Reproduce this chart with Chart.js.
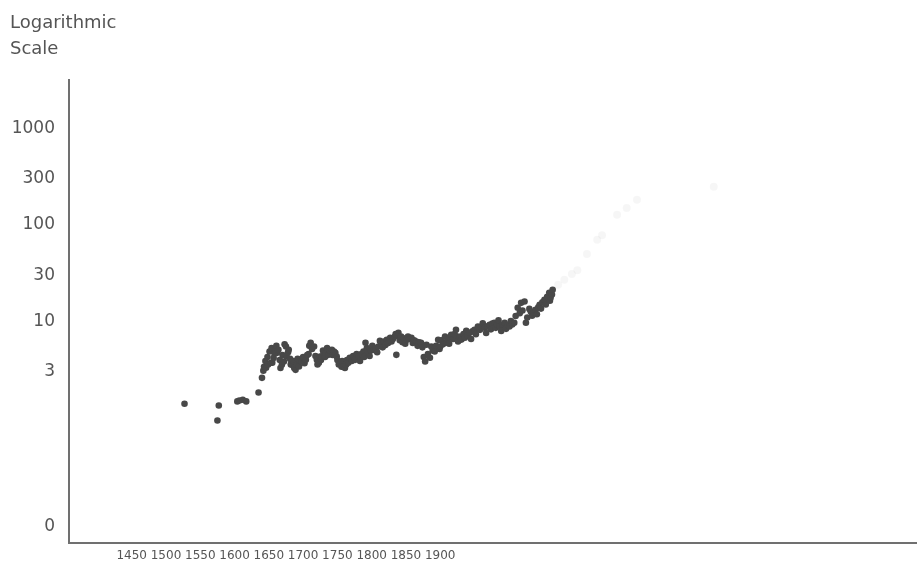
<!DOCTYPE html>
<html>
<head>
<meta charset="utf-8">
<title>Logarithmic Scale</title>
<script src="https://cdn.jsdelivr.net/npm/chart.js@4/dist/chart.umd.min.js"></script>
<style>
  html, body { margin: 0; padding: 0; background: #ffffff; }
  #wrap { width: 920px; height: 571px; position: relative; }
</style>
</head>
<body>
<div id="wrap"><canvas id="chart"></canvas></div>
<script>
// Index readings, one per marker
const years = [
  1527, 1575, 1577, 1604, 1607, 1612, 1617, 1635,
  1640, 1642, 1643, 1645, 1646, 1648, 1649, 1651, 1653, 1654,
  1655, 1657, 1658, 1660, 1661, 1662, 1664, 1666, 1667, 1669,
  1670, 1672, 1673, 1675, 1676, 1678, 1679, 1681, 1682, 1684,
  1686, 1687, 1689, 1691, 1692, 1694, 1696, 1698, 1700, 1702,
  1704, 1706, 1708, 1709, 1711, 1713, 1716, 1718, 1720, 1721,
  1723, 1725, 1726, 1727, 1729, 1730, 1732, 1733, 1735, 1737,
  1739, 1742, 1743, 1745, 1747, 1749, 1750, 1752, 1754, 1756,
  1757, 1759, 1761, 1763, 1764, 1766, 1768, 1771, 1773, 1776,
  1778, 1781, 1783, 1785, 1788, 1789, 1791, 1793, 1795, 1797,
  1799, 1801, 1803, 1806, 1808, 1810, 1812, 1814, 1816, 1818,
  1820, 1822, 1824, 1827, 1829, 1831, 1834, 1835, 1836, 1839,
  1841, 1843, 1845, 1847, 1849, 1851, 1853, 1855, 1858, 1860,
  1862, 1865, 1867, 1869, 1872, 1874, 1876, 1878, 1880, 1882,
  1885, 1887, 1889, 1892, 1894, 1897, 1899, 1900, 1902, 1904,
  1907, 1909, 1911, 1913, 1916, 1919, 1921, 1923, 1924, 1926,
  1929, 1931, 1934, 1936, 1938, 1940, 1943, 1945, 1947, 1950,
  1952, 1955, 1958, 1960, 1962, 1965, 1967, 1969, 1972, 1974,
  1976, 1979, 1981, 1983, 1985, 1987, 1989, 1991, 1994, 1996,
  1998, 2001, 2003, 2005, 2008, 2010, 2013, 2016, 2018, 2020,
  2023, 2025, 2027, 2030, 2032, 2034, 2036, 2039, 2041, 2043,
  2045, 2047, 2049, 2052, 2054, 2056, 2059, 2060, 2061, 2063,
  2064
];
const values = [
  1.41, 0.945, 1.35, 1.49, 1.52, 1.55, 1.49, 1.84,
  2.61, 3.10, 3.40, 3.90, 3.32, 4.30, 3.60, 4.90, 3.74, 5.30,
  3.74, 4.20, 4.74, 5.09, 5.60, 4.74, 5.09, 4.00, 3.30, 3.56,
  4.50, 3.85, 5.80, 5.51, 4.34, 4.80, 5.09, 4.10, 3.60, 3.56,
  3.90, 3.30, 3.16, 3.60, 4.10, 3.42, 3.90, 3.85, 4.30, 3.70,
  4.01, 4.50, 4.60, 5.60, 6.02, 5.20, 5.51, 4.40, 4.01, 3.60,
  3.74, 4.34, 4.00, 4.34, 5.00, 4.74, 4.30, 4.74, 5.30, 4.52,
  5.00, 5.09, 4.50, 4.89, 4.74, 4.34, 4.00, 3.60, 3.74, 3.40,
  3.90, 3.42, 3.30, 3.60, 4.00, 3.74, 4.20, 3.90, 4.40, 4.01,
  4.60, 4.34, 3.90, 4.60, 4.89, 4.30, 6.02, 5.30, 4.74, 4.40,
  5.00, 5.60, 5.09, 5.30, 4.80, 5.51, 6.30, 6.02, 5.40, 6.20,
  5.70, 6.46, 6.00, 6.78, 6.20, 6.60, 6.99, 7.40, 4.52, 7.64,
  6.40, 6.99, 6.10, 6.70, 5.90, 6.46, 7.00, 6.60, 6.78, 6.00,
  6.40, 6.21, 5.60, 6.10, 6.02, 5.40, 4.30, 3.85, 5.74, 4.60,
  4.21, 5.51, 5.00, 4.89, 5.60, 6.46, 5.20, 5.51, 6.40, 5.80,
  6.99, 6.02, 6.60, 5.90, 7.28, 6.60, 7.40, 8.20, 7.00, 6.21,
  7.00, 6.50, 7.40, 6.78, 8.00, 7.20, 7.64, 6.60, 7.90, 8.20,
  7.40, 8.87, 8.20, 8.70, 9.60, 8.60, 7.60, 8.90, 9.24, 8.30,
  9.50, 9.70, 8.60, 9.30, 10.3, 8.87, 8.00, 9.30, 9.70, 8.40,
  9.20, 8.87, 10.1, 9.30, 9.70, 11.4, 13.9, 12.2, 15.6, 13.0,
  16.1, 9.70, 11.0, 13.5, 12.7, 11.5, 12.4, 13.2, 11.9, 14.0,
  14.9, 13.6, 15.8, 16.8, 15.0, 18.0, 19.8, 16.4, 17.6, 19.0,
  21.3
];

// Pale continuation of the series
const fadedYears = [2072, 2081, 2092, 2100, 2114, 2129, 2136, 2158, 2172, 2187, 2299];
const fadedValues = [24, 27, 31, 34, 50, 70, 78, 127, 150, 182, 248];

// Axis ticks
const xTickYears = [1450, 1500, 1550, 1600, 1650, 1700, 1750, 1800, 1850, 1900];
const yTickValues = [0.075, 3, 10, 30, 100, 300, 1000];
const yTickLabels = ['0', '3', '10', '30', '100', '300', '1000'];

const points = years.map((yr, i) => ({ x: yr, y: values[i] }));
const fadedPoints = fadedYears.map((yr, i) => ({ x: yr, y: fadedValues[i] }));

const textColor = '#555555';
const axisColor = '#707070';

// Two-line caption above the value axis
const captionPlugin = {
  id: 'caption',
  afterDraw(chart) {
    const ctx = chart.ctx;
    ctx.save();
    ctx.font = '18px "DejaVu Sans"';
    ctx.fillStyle = textColor;
    ctx.textAlign = 'left';
    ctx.textBaseline = 'alphabetic';
    ctx.fillText('Logarithmic', 10, 28);
    ctx.fillText('Scale', 10, 54);
    ctx.restore();
  }
};

new Chart(document.getElementById('chart'), {
  type: 'scatter',
  data: {
    datasets: [
      {
        data: fadedPoints,
        pointRadius: 4,
        pointBackgroundColor: 'rgba(0,0,0,0.035)',
        pointBorderWidth: 0
      },
      {
        data: points,
        pointRadius: 3.3,
        pointBackgroundColor: '#484848',
        pointBorderWidth: 0
      }
    ]
  },
  options: {
    responsive: true,
    maintainAspectRatio: false,
    animation: false,
    devicePixelRatio: 1,
    layout: { padding: { top: 80, left: 0, right: 0, bottom: 0 } },
    plugins: {
      legend: { display: false },
      tooltip: { enabled: false },
      title: { display: false }
    },
    scales: {
      x: {
        type: 'linear',
        min: 1358.5,
        max: 2594,
        afterBuildTicks(scale) {
          scale.ticks = xTickYears.map(v => ({ value: v }));
        },
        afterFit(scale) { scale.height = 28; },
        grid: { display: false, drawTicks: false },
        border: { display: true, color: axisColor, width: 2 },
        ticks: {
          autoSkip: false,
          maxRotation: 0,
          padding: 6,
          color: textColor,
          font: { family: 'DejaVu Sans', size: 12 },
          callback: v => String(v)
        }
      },
      y: {
        type: 'logarithmic',
        min: 0.051,
        max: 3160,
        afterBuildTicks(scale) {
          scale.ticks = yTickValues.map(v => ({ value: v }));
        },
        afterFit(scale) { scale.width = 69; },
        grid: { display: false, drawTicks: false },
        border: { display: true, color: axisColor, width: 2 },
        ticks: {
          autoSkip: false,
          padding: 14,
          color: textColor,
          font: { family: 'DejaVu Sans', size: 17 },
          callback: (v, i) => yTickLabels[i]
        }
      }
    }
  },
  plugins: [captionPlugin]
});
</script>
</body>
</html>
